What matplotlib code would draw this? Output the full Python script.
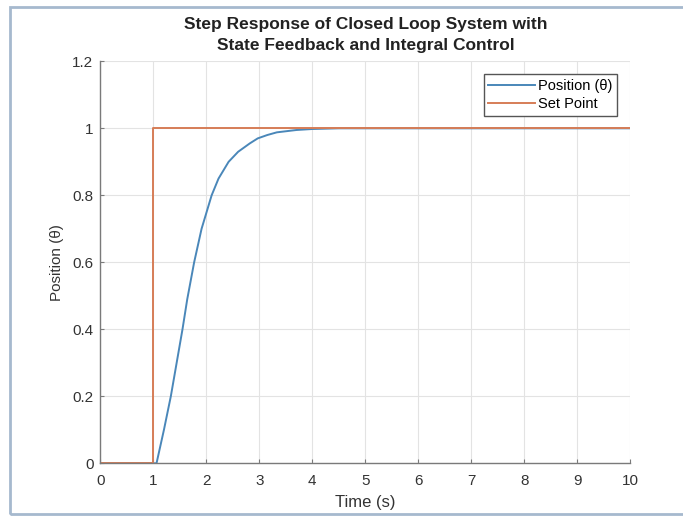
import matplotlib.pyplot as plt
from matplotlib.patches import Rectangle

# step response
time = [0, 1.0, 1.06, 1.13, 1.20, 1.33, 1.44, 1.55, 1.64, 1.77, 1.91, 2.10,
        2.23, 2.42, 2.60, 2.82, 2.97, 3.15, 3.33, 3.70, 4.00, 4.50, 5.0, 10]
position = [0, 0, 0, 0.05, 0.10, 0.20, 0.30, 0.40, 0.49, 0.60, 0.70, 0.80,
            0.85, 0.90, 0.93, 0.955, 0.97, 0.98, 0.988, 0.995, 0.998, 1.0, 1.0, 1.0]

sp_time = [0, 1, 1, 10]
sp_value = [0, 0, 1, 1]

xticks = [0, 1, 2, 3, 4, 5, 6, 7, 8, 9, 10]
yticks = [0, 0.2, 0.4, 0.6, 0.8, 1.0, 1.2]
ytick_labels = ['0', '0.2', '0.4', '0.6', '0.8', '1', '1.2']

plt.rcParams['font.family'] = ['Liberation Sans', 'DejaVu Sans']

fig = plt.figure(figsize=(6.83, 5.21), dpi=100)
ax = fig.add_axes([0.1469, 0.1107, 0.7760, 0.7716])

blue = '#4a87b9'
orange = '#d67d57'
ax.plot(time, position, color=blue, lw=1.4, label='Position (θ)')
ax.plot(sp_time, sp_value, color=orange, lw=1.4, label='Set Point')

ax.set_xlim(0, 10)
ax.set_ylim(0, 1.2)
ax.set_xticks(xticks)
ax.set_yticks(yticks)
ax.set_yticklabels(ytick_labels)
ax.grid(True, color='#e3e3e3', lw=0.8)
ax.set_axisbelow(True)

for s in ['top', 'right']:
    ax.spines[s].set_visible(False)
for s in ['left', 'bottom']:
    ax.spines[s].set_color('#7a7a7a')
    ax.spines[s].set_linewidth(1.0)
ax.tick_params(direction='in', length=3, color='#7a7a7a', labelcolor='#333333',
               labelsize=11)
ax.tick_params(axis='x', pad=8)
ax.tick_params(axis='y', pad=5)

ax.set_xlabel('Time (s)', fontsize=12, color='#333333', labelpad=5)
ax.set_ylabel('Position (θ)', fontsize=11, color='#333333', labelpad=6)
ax.set_title('Step Response of Closed Loop System with\nState Feedback and Integral Control',
             fontsize=12.5, fontweight='bold', color='#222222', pad=8, linespacing=1.55)

leg = ax.legend(loc='upper right', fontsize=10.5, handlelength=3.2, handletextpad=0.25,
                borderpad=0.3, labelspacing=0.3, fancybox=False,
                borderaxespad=0.9, framealpha=1)
leg.get_frame().set_edgecolor('#555555')
leg.get_frame().set_linewidth(1.0)

# light border around the picture
fig.patches.append(Rectangle((10 / 683, 7 / 521), 1.0, 1 - 14 / 521,
                             transform=fig.transFigure, fill=False,
                             edgecolor='#a6b9ce', lw=2, clip_on=False))

fig.savefig('out.png', dpi=100)
